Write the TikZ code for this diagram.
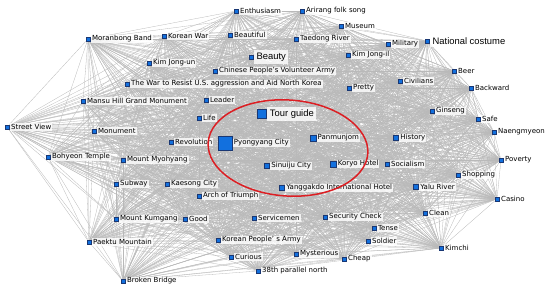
\documentclass[tikz,border=0pt]{standalone}
\usepackage{fontspec}
\setmainfont{DejaVu Sans}
\newfontfamily\bigfont{Liberation Sans}
\usetikzlibrary{backgrounds}
\definecolor{vtxblue}{RGB}{18,112,222}
\definecolor{vtxline}{RGB}{25,55,115}
\definecolor{ringred}{RGB}{220,30,35}
\tikzset{
  vtx/.style={rectangle, fill=vtxblue, draw=vtxline, line width=.4pt, inner sep=0pt, minimum size=#1},
  lbl/.style={font=\fontsize{7}{8}\selectfont, fill=white, fill opacity=.8, text opacity=1, inner sep=1pt},
  lblbig/.style={font=\bigfont\fontsize{9.4}{11}\selectfont, fill=white, fill opacity=.8, text opacity=1, inner sep=2.5pt},
  link/.style={draw=gray!55, line width=.3pt}
}
\begin{document}
\begin{tikzpicture}[x=1pt,y=-1pt]
		\useasboundingbox (0,0) rectangle (550,293);
		% words
		\foreach \x/\y/\s/\f/\t [count=\i] in {
		88/39/4.5pt/lbl/Moranbong Band, 164/36/4.5pt/lbl/Korean War, 149/63/4.5pt/lbl/Kim Jong-un,
		127/84/4.5pt/lbl/The War to Resist U.S. aggression and Aid North Korea,
		236/11/4.5pt/lbl/Enthusiasm, 302/11/4.5pt/lbl/Arirang folk song, 341/26/4.5pt/lbl/Museum,
		230/35/4.5pt/lbl/Beautiful, 296/39/4.5pt/lbl/Taedong River, 251/57/4.5pt/lblbig/Beauty,
		348/55/4.5pt/lbl/Kim Jong-il, 215/71/4.5pt/lbl/Chinese People's Volunteer Army,
		349/88/4.5pt/lbl/Pretty, 206/100/4.5pt/lbl/Leader, 388/44/4.5pt/lbl/Military,
		427/41/4.5pt/lblbig/National costume, 454/71/4.5pt/lbl/Beer, 400/81/4.5pt/lbl/Civilians,
		471/88/4.5pt/lbl/Backward, 83/101/4.5pt/lbl/Mansu Hill Grand Monument, 7/127/4.5pt/lbl/Street View,
		94/131/4.5pt/lbl/Monument, 171/142/4.5pt/lbl/Revolution, 48/157/4.5pt/lbl/Bohyeon Temple,
		123/160/4.5pt/lbl/Mount Myohyang, 116/184/4.5pt/lbl/Subway, 167/184/4.5pt/lbl/Kaesong City,
		199/118/4.5pt/lbl/Life, 262/114/9pt/lblbig/Tour guide, 225/143/14pt/lbl/Pyongyang City,
		313/138/5.5pt/lbl/Panmunjom, 267/166/5pt/lbl/Sinuiju City, 333/164/6pt/lbl/Koryo Hotel,
		282/188/5pt/lbl/Yanggakdo International Hotel, 432/111/4.5pt/lbl/Ginseng, 478/119/4.5pt/lbl/Safe,
		494/132/4.5pt/lbl/Naengmyeon, 396/138/5pt/lbl/History, 387/164/4.5pt/lbl/Socialism,
		501/160/4.5pt/lbl/Poverty, 458/175/4.5pt/lbl/Shopping, 416/187/5pt/lbl/Yalu River,
		116/219/4.5pt/lbl/Mount Kumgang, 89/242/4.5pt/lbl/Paektu Mountain, 123/281/4.5pt/lbl/Broken Bridge,
		199/196/4.5pt/lbl/Arch of Triumph, 185/219/4.5pt/lbl/Good, 254/218/4.5pt/lbl/Servicemen,
		325/217/4.5pt/lbl/Security Check, 218/240/4.5pt/lbl/Korean People' s Army, 231/257/4.5pt/lbl/Curious,
		296/254/4.5pt/lbl/Mysterious, 344/259/4.5pt/lbl/Cheap, 258/271/4.5pt/lbl/38th parallel north,
		497/199/4.5pt/lbl/Casino, 425/213/4.5pt/lbl/Clean, 374/228/4.5pt/lbl/Tense,
		368/241/4.5pt/lbl/Soldier, 441/248/4.5pt/lbl/Kimchi}
		\node[vtx=\s, label={[\f, label distance=.5pt]right:\t}] (n\i) at (\x,\y) {};
		
		% co-occurrence links
		\begin{scope}[on background layer]
		\foreach \i in {1,...,58} {
			\pgfmathtruncatemacro\k{\i+1}
			\foreach \j in {\k,...,59}
			\draw[link] (n\i) -- (n\j);
		}
		\end{scope}
		
		\draw[ringred, line width=1.5pt, rotate around={-4:(288,148)}] (288,148) ellipse (80 and 48);
		\end{tikzpicture}
\end{document}
